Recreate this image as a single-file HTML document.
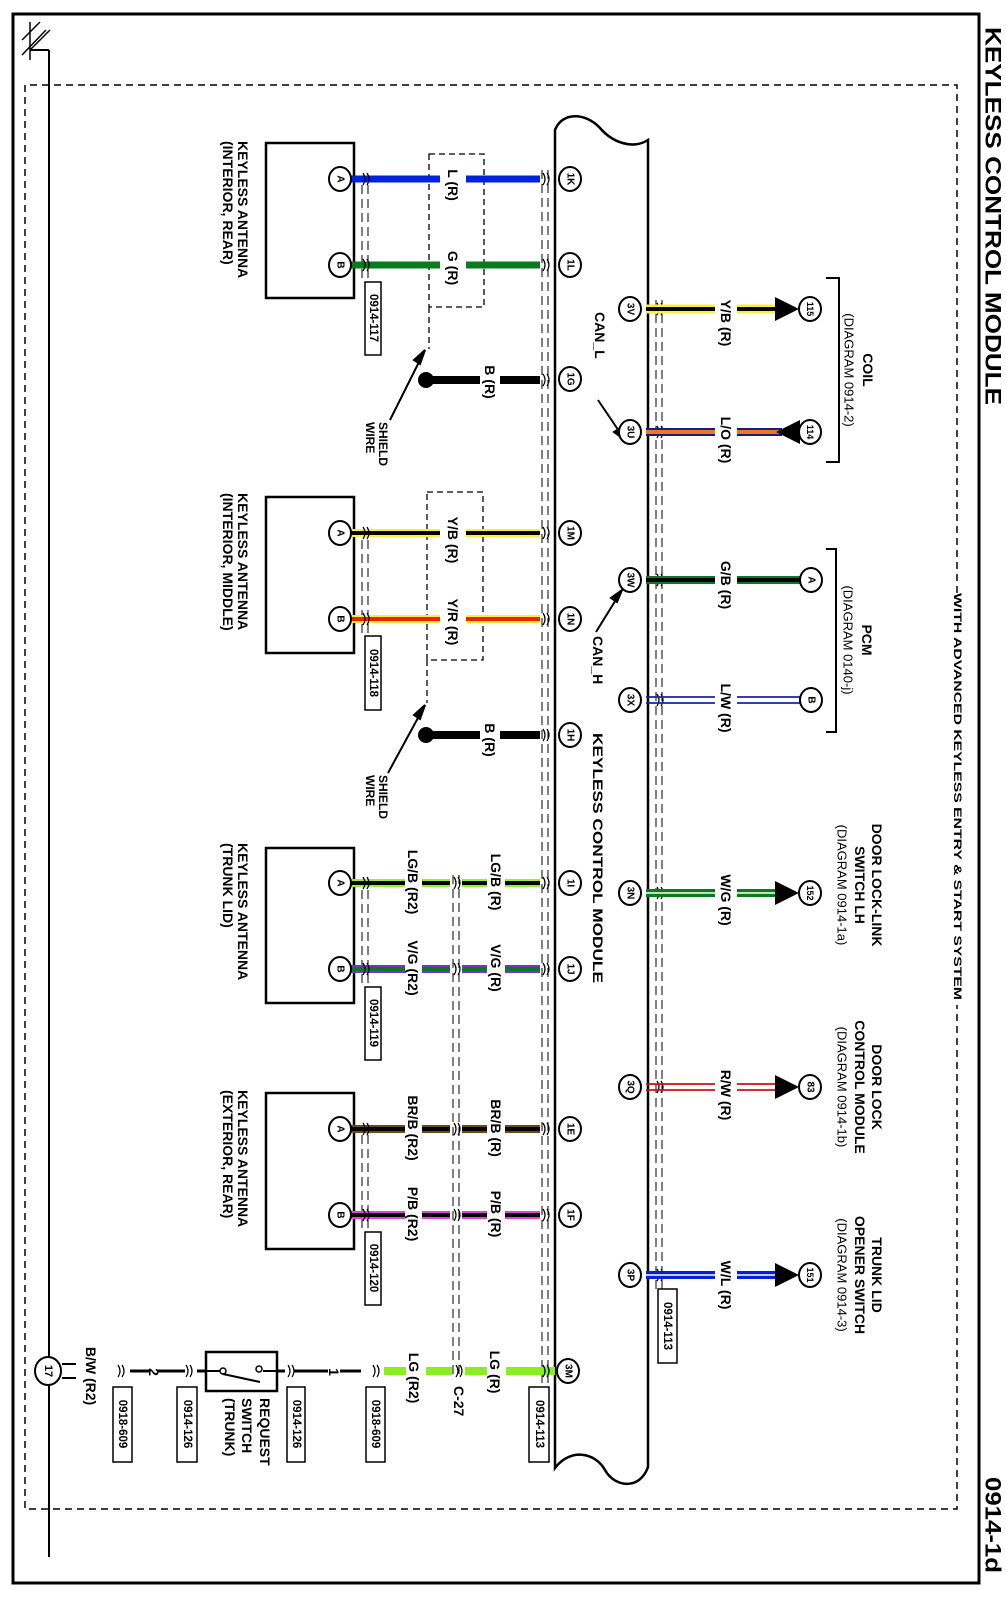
<!DOCTYPE html>
<html><head><meta charset="utf-8"><style>
html,body{margin:0;padding:0;background:#fff}
svg{display:block}
text{font-family:"Liberation Sans",Arial,sans-serif;font-weight:bold;fill:#000}
.p{font-size:10px}
.w{font-size:14px}
.l{font-size:14px}
.d{font-size:13px;font-weight:normal}
.c{font-size:11.5px}
</style></head><body>
<svg width="1006" height="1604" viewBox="0 0 1006 1604" xmlns="http://www.w3.org/2000/svg">
<defs>
<g id="mk"><path d="M-2,-6 Q2,0 -2,6 M2,-6 Q6,0 2,6" fill="none" stroke="#000" stroke-width="1.2"/></g>
<g id="arR"><path d="M0,-12 L24,0 L0,12 Z" fill="#000"/></g>
<g id="arL"><path d="M24,-12 L0,0 L24,12 Z" fill="#000"/></g>
</defs>
<rect x="0" y="0" width="1006" height="1604" fill="#fff"/>
<path d="M13,1583 L13,14 L979,14 L979,1583 Z" fill="none" stroke="#000" stroke-width="3"/>
<path d="M957,593 L957,85 L25,85 L25,1509 L957,1509 L957,1005" fill="none" stroke="#000" stroke-width="1.5" stroke-dasharray="7,5"/>
<line x1="49" y1="50" x2="49" y2="1557" stroke="#000" stroke-width="2"/>
<line x1="30" y1="50" x2="49" y2="50" stroke="#000" stroke-width="2"/>
<path d="M22,40 L40,22 M22,55 L46,30 M30,50 L50,30" stroke="#000" stroke-width="1.5"/>
<line x1="30" y1="22" x2="30" y2="60" stroke="#000" stroke-width="1.5"/>
<text transform="translate(993,27) rotate(90)" font-size="22" dominant-baseline="central" textLength="378" lengthAdjust="spacingAndGlyphs">KEYLESS CONTROL MODULE</text>
<text transform="translate(993,1477) rotate(90)" font-size="22" dominant-baseline="central" textLength="96" lengthAdjust="spacingAndGlyphs">0914-1d</text>
<text transform="translate(957,593) rotate(90)" font-size="11" dominant-baseline="central" textLength="407" lengthAdjust="spacingAndGlyphs">WITH ADVANCED KEYLESS ENTRY &amp; START SYSTEM</text>

<g stroke="#000" stroke-width="1" stroke-dasharray="9,5" fill="none">
<path d="M542,170 V1400 M548,170 V1400"/>
<path d="M656,300 V1290 M662,300 V1290"/>
<path d="M453,875 V1375 M459,875 V1375"/>
<path d="M362,185 V282 M368,185 V282"/>
<path d="M362,540 V636 M368,540 V636"/>
<path d="M362,890 V987 M368,890 V987"/>
<path d="M362,1135 V1232 M368,1135 V1232"/>
</g>

<path d="M555,1468 L555,130 C562,112 585,112 600,128 C612,142 632,150 648,140 L648,1467 C640,1490 615,1488 605,1470 C595,1452 570,1448 555,1468 Z" fill="#fff" stroke="#000" stroke-width="2.5"/>
<text transform="translate(598,733) rotate(90)" class="l" dominant-baseline="central" textLength="250" lengthAdjust="spacingAndGlyphs">KEYLESS CONTROL MODULE</text>

<g fill="none" stroke="#000" stroke-width="2.5">
<rect x="266" y="143" width="88" height="155"/>
<rect x="266" y="497" width="88" height="156"/>
<rect x="266" y="848" width="88" height="155"/>
<rect x="266" y="1093" width="88" height="156"/>
</g>
<g class="l" dominant-baseline="central">
<text transform="translate(243,141) rotate(90)" class="l">KEYLESS ANTENNA</text>
<text transform="translate(228,141) rotate(90)" class="l">(INTERIOR, REAR)</text>
<text transform="translate(243,493) rotate(90)" class="l">KEYLESS ANTENNA</text>
<text transform="translate(228,493) rotate(90)" class="l">(INTERIOR, MIDDLE)</text>
<text transform="translate(243,843) rotate(90)" class="l">KEYLESS ANTENNA</text>
<text transform="translate(228,843) rotate(90)" class="l">(TRUNK LID)</text>
<text transform="translate(243,1090) rotate(90)" class="l">KEYLESS ANTENNA</text>
<text transform="translate(228,1090) rotate(90)" class="l">(EXTERIOR, REAR)</text>
</g>

<g fill="none" stroke="#000" stroke-width="1.3" stroke-dasharray="6,4">
<path d="M429,154 H484 V307 H429 Z M429,307 V349"/>
<path d="M427,492 H483 V660 H427 Z M427,660 V703"/>
</g>
<g stroke="#000" stroke-width="2" fill="#000">
<path d="M390,420 L425,350" fill="none"/><path d="M425,350 L414,360 L420,364 Z"/>
<path d="M388,773 L425,705" fill="none"/><path d="M425,705 L414,715 L420,719 Z"/>
<path d="M598,400 L625,440" fill="none"/><path d="M625,440 L614,432 L620,428 Z"/>
<path d="M596,632 L622,590" fill="none"/><path d="M622,590 L611,598 L617,602 Z"/>
</g>
<g dominant-baseline="central">
<text transform="translate(383,422) rotate(90)" font-size="12">SHIELD</text>
<text transform="translate(370,422) rotate(90)" font-size="12">WIRE</text>
<text transform="translate(383,775) rotate(90)" font-size="12">SHIELD</text>
<text transform="translate(370,775) rotate(90)" font-size="12">WIRE</text>
<text transform="translate(600,312) rotate(90)" class="w">CAN_L</text>
<text transform="translate(598,636) rotate(90)" class="w">CAN_H</text>
</g>

<g>
<path d="M351,179 H440 M466,179 H540" stroke="#0022dd" stroke-width="7"/>
<path d="M351,265 H440 M466,265 H540" stroke="#0a7a1e" stroke-width="7"/>
<path d="M426,380 H480 M500,380 H540" stroke="#000" stroke-width="8"/>
<circle cx="426" cy="380" r="8" fill="#000"/>
<path d="M351,533 H440 M466,533 H540" stroke="#ffee33" stroke-width="8"/>
<path d="M351,533 H440 M466,533 H540" stroke="#000" stroke-width="4"/>
<path d="M351,619 H440 M466,619 H540" stroke="#ffee33" stroke-width="8"/>
<path d="M351,619 H440 M466,619 H540" stroke="#ee2200" stroke-width="4"/>
<path d="M426,735 H480 M500,735 H540" stroke="#000" stroke-width="8"/>
<circle cx="426" cy="735" r="8" fill="#000"/>
<path d="M351,883 H405 M422,883 H450 M462,883 H487 M505,883 H540" stroke="#99ee33" stroke-width="8"/>
<path d="M351,883 H405 M422,883 H450 M462,883 H487 M505,883 H540" stroke="#000" stroke-width="4"/>
<path d="M351,969 H405 M422,969 H450 M462,969 H487 M505,969 H540" stroke="#7733cc" stroke-width="8"/>
<path d="M351,969 H405 M422,969 H450 M462,969 H487 M505,969 H540" stroke="#0a7a1e" stroke-width="4"/>
<path d="M351,1129 H405 M422,1129 H450 M462,1129 H487 M505,1129 H540" stroke="#6b4a1a" stroke-width="8"/>
<path d="M351,1129 H405 M422,1129 H450 M462,1129 H487 M505,1129 H540" stroke="#000" stroke-width="4"/>
<path d="M351,1215 H405 M422,1215 H450 M462,1215 H487 M505,1215 H540" stroke="#dd44dd" stroke-width="8"/>
<path d="M351,1215 H405 M422,1215 H450 M462,1215 H487 M505,1215 H540" stroke="#000" stroke-width="4"/>
<path d="M384,1371 H406 M426,1371 H452 M465,1371 H487 M506,1371 H555" stroke="#88ee22" stroke-width="8"/>
</g>
<g>
<use href="#mk" x="365" y="179"/><use href="#mk" x="545" y="179"/>
<use href="#mk" x="365" y="265"/><use href="#mk" x="545" y="265"/>
<use href="#mk" x="545" y="380"/>
<use href="#mk" x="365" y="533"/><use href="#mk" x="545" y="533"/>
<use href="#mk" x="365" y="619"/><use href="#mk" x="545" y="619"/>
<use href="#mk" x="545" y="735"/>
<use href="#mk" x="365" y="883"/><use href="#mk" x="456" y="883"/><use href="#mk" x="545" y="883"/>
<use href="#mk" x="365" y="969"/><use href="#mk" x="456" y="969"/><use href="#mk" x="545" y="969"/>
<use href="#mk" x="365" y="1129"/><use href="#mk" x="456" y="1129"/><use href="#mk" x="545" y="1129"/>
<use href="#mk" x="365" y="1215"/><use href="#mk" x="456" y="1215"/><use href="#mk" x="545" y="1215"/>
<use href="#mk" x="375" y="1371"/><use href="#mk" x="458" y="1371"/><use href="#mk" x="545" y="1371"/>
<use href="#mk" x="659" y="309"/><use href="#mk" x="659" y="432"/><use href="#mk" x="659" y="580"/>
<use href="#mk" x="659" y="700"/><use href="#mk" x="659" y="893"/><use href="#mk" x="659" y="1087"/><use href="#mk" x="659" y="1275"/>
<use href="#mk" x="290" y="1371"/><use href="#mk" x="188" y="1371"/><use href="#mk" x="120" y="1371"/>
</g>
<g class="w" text-anchor="middle" dominant-baseline="central">
<text transform="translate(453,185) rotate(90)">L (R)</text>
<text transform="translate(453,268) rotate(90)">G (R)</text>
<text transform="translate(490,382) rotate(90)">B (R)</text>
<text transform="translate(453,540) rotate(90)">Y/B (R)</text>
<text transform="translate(453,622) rotate(90)">Y/R (R)</text>
<text transform="translate(490,740) rotate(90)">B (R)</text>
<text transform="translate(413,882) rotate(90)">LG/B (R2)</text>
<text transform="translate(496,882) rotate(90)">LG/B (R)</text>
<text transform="translate(413,968) rotate(90)">V/G (R2)</text>
<text transform="translate(496,968) rotate(90)">V/G (R)</text>
<text transform="translate(413,1128) rotate(90)">BR/B (R2)</text>
<text transform="translate(496,1128) rotate(90)">BR/B (R)</text>
<text transform="translate(413,1214) rotate(90)">P/B (R2)</text>
<text transform="translate(496,1214) rotate(90)">P/B (R)</text>
<text transform="translate(414,1378) rotate(90)">LG (R2)</text>
<text transform="translate(495,1372) rotate(90)">LG (R)</text>
<text transform="translate(726,323) rotate(90)">Y/B (R)</text>
<text transform="translate(726,440) rotate(90)">L/O (R)</text>
<text transform="translate(726,585) rotate(90)">G/B (R)</text>
<text transform="translate(726,708) rotate(90)">L/W (R)</text>
<text transform="translate(726,900) rotate(90)">W/G (R)</text>
<text transform="translate(726,1095) rotate(90)">R/W (R)</text>
<text transform="translate(726,1285) rotate(90)">W/L (R)</text>
<text transform="translate(91,1376) rotate(90)">B/W (R2)</text>
</g>
<text transform="translate(459,1386) rotate(90)" class="w" dominant-baseline="central">C-27</text>

<g>
<path d="M646,309 H715 M737,309 H776" stroke="#ffee33" stroke-width="9"/>
<path d="M646,309 H715 M737,309 H776" stroke="#000" stroke-width="4"/>
<path d="M646,432 H715 M737,432 H782" stroke="#1a1a88" stroke-width="8"/>
<path d="M646,432 H715 M737,432 H782" stroke="#ee7722" stroke-width="4"/>
<path d="M646,580 H715 M737,580 H800" stroke="#0a7a1e" stroke-width="8"/>
<path d="M646,580 H715 M737,580 H800" stroke="#000" stroke-width="4"/>
<path d="M646,697 H715 M737,697 H800 M646,703 H715 M737,703 H800" stroke="#1a22aa" stroke-width="1.8"/>
<path d="M646,893 H715 M737,893 H776" stroke="#0a7a1e" stroke-width="8"/>
<path d="M646,893 H715 M737,893 H776" stroke="#fff" stroke-width="1.5"/>
<path d="M646,1084 H715 M737,1084 H776 M646,1090 H715 M737,1090 H776" stroke="#cc1111" stroke-width="1.8"/>
<path d="M646,1275 H715 M737,1275 H776" stroke="#0022dd" stroke-width="8"/>
<path d="M646,1275 H715 M737,1275 H776" stroke="#fff" stroke-width="1.5"/>
</g>
<use href="#arR" x="775" y="309"/>
<use href="#arL" x="776" y="432"/>
<use href="#arR" x="775" y="893"/>
<use href="#arR" x="775" y="1087"/>
<use href="#arR" x="775" y="1275"/>

<path d="M826,278 H839 V462 H826" fill="none" stroke="#000" stroke-width="2"/>
<path d="M826,549 H836 V732 H826" fill="none" stroke="#000" stroke-width="2"/>
<g text-anchor="middle" dominant-baseline="central">
<text transform="translate(868,370) rotate(90)" class="l">COIL</text>
<text transform="translate(849,370) rotate(90)" class="d">(DIAGRAM 0914-2)</text>
<text transform="translate(867,640) rotate(90)" class="l">PCM</text>
<text transform="translate(848,640) rotate(90)" class="d">(DIAGRAM 0140-j)</text>
<text transform="translate(877,885) rotate(90)" class="l">DOOR LOCK-LINK</text>
<text transform="translate(860,885) rotate(90)" class="l">SWITCH LH</text>
<text transform="translate(842,885) rotate(90)" class="d">(DIAGRAM 0914-1a)</text>
<text transform="translate(877,1087) rotate(90)" class="l">DOOR LOCK</text>
<text transform="translate(860,1087) rotate(90)" class="l">CONTROL MODULE</text>
<text transform="translate(842,1087) rotate(90)" class="d">(DIAGRAM 0914-1b)</text>
<text transform="translate(877,1275) rotate(90)" class="l">TRUNK LID</text>
<text transform="translate(860,1275) rotate(90)" class="l">OPENER SWITCH</text>
<text transform="translate(842,1275) rotate(90)" class="d">(DIAGRAM 0914-3)</text>
</g>

<path d="M294,1371 H328 M340,1371 H361" stroke="#000" stroke-width="3"/>
<path d="M130,1371 H150 M158,1371 H185" stroke="#000" stroke-width="3"/>
<path d="M197,1371 H206" stroke="#000" stroke-width="3"/>
<path d="M277,1371 H285" stroke="#000" stroke-width="3"/>
<path d="M62,1364 H76 M62,1378 H76" stroke="#000" stroke-width="2"/>
<rect x="206" y="1352" width="71" height="39" fill="none" stroke="#000" stroke-width="2.5"/>
<path d="M206,1371 H220 M263,1371 H277" stroke="#000" stroke-width="2"/>
<circle cx="223" cy="1371" r="3" fill="#fff" stroke="#000" stroke-width="1.5"/>
<circle cx="259" cy="1369" r="3" fill="#fff" stroke="#000" stroke-width="1.5"/>
<path d="M223,1374 L260,1382" stroke="#000" stroke-width="2"/>
<g class="w" text-anchor="middle" dominant-baseline="central">
<text transform="translate(334,1372) rotate(90)">1</text>
<text transform="translate(154,1372) rotate(90)">2</text>
</g>
<g class="l" dominant-baseline="central">
<text transform="translate(265,1398) rotate(90)">REQUEST</text>
<text transform="translate(247,1398) rotate(90)">SWITCH</text>
<text transform="translate(230,1398) rotate(90)">(TRUNK)</text>
</g>
<ellipse cx="48" cy="1371" rx="13" ry="14" fill="#fff" stroke="#000" stroke-width="2"/>
<text transform="translate(48,1371) rotate(90)" font-size="11" text-anchor="middle" dominant-baseline="central">17</text>

<g fill="#fff" stroke="#000" stroke-width="1.5">
<rect x="365" y="282" width="16" height="73"/>
<rect x="365" y="636" width="16" height="74"/>
<rect x="365" y="987" width="16" height="73"/>
<rect x="365" y="1232" width="16" height="73"/>
<rect x="529" y="1387" width="20" height="75"/>
<rect x="658" y="1289" width="19" height="74"/>
<rect x="366" y="1387" width="19" height="75"/>
<rect x="287" y="1387" width="18" height="75"/>
<rect x="177" y="1387" width="20" height="75"/>
<rect x="113" y="1387" width="19" height="75"/>
</g>
<g class="c" text-anchor="middle" dominant-baseline="central">
<text transform="translate(373,318) rotate(90)">0914-117</text>
<text transform="translate(373,673) rotate(90)">0914-118</text>
<text transform="translate(373,1023) rotate(90)">0914-119</text>
<text transform="translate(373,1268) rotate(90)">0914-120</text>
<text transform="translate(539,1424) rotate(90)">0914-113</text>
<text transform="translate(667,1326) rotate(90)">0914-113</text>
<text transform="translate(375,1424) rotate(90)">0918-609</text>
<text transform="translate(296,1424) rotate(90)">0914-126</text>
<text transform="translate(187,1424) rotate(90)">0914-126</text>
<text transform="translate(122,1424) rotate(90)">0918-609</text>
</g>

<g fill="#fff" stroke="#000" stroke-width="2">
<ellipse cx="340" cy="179" rx="11" ry="12"/><ellipse cx="340" cy="265" rx="11" ry="12"/>
<ellipse cx="340" cy="533" rx="11" ry="12"/><ellipse cx="340" cy="619" rx="11" ry="12"/>
<ellipse cx="340" cy="883" rx="11" ry="12"/><ellipse cx="340" cy="969" rx="11" ry="12"/>
<ellipse cx="340" cy="1129" rx="11" ry="12"/><ellipse cx="340" cy="1215" rx="11" ry="12"/>
<ellipse cx="570" cy="179" rx="11" ry="12"/><ellipse cx="570" cy="265" rx="11" ry="12"/>
<ellipse cx="570" cy="379" rx="11" ry="12"/><ellipse cx="570" cy="533" rx="11" ry="12"/>
<ellipse cx="570" cy="619" rx="11" ry="12"/><ellipse cx="570" cy="735" rx="11" ry="12"/>
<ellipse cx="570" cy="883" rx="11" ry="12"/><ellipse cx="570" cy="969" rx="11" ry="12"/>
<ellipse cx="570" cy="1129" rx="11" ry="12"/><ellipse cx="570" cy="1215" rx="11" ry="12"/>
<ellipse cx="568" cy="1371" rx="11" ry="12"/>
<ellipse cx="630" cy="309" rx="11" ry="12"/><ellipse cx="630" cy="432" rx="11" ry="12"/>
<ellipse cx="630" cy="580" rx="11" ry="12"/><ellipse cx="630" cy="700" rx="11" ry="12"/>
<ellipse cx="630" cy="893" rx="11" ry="12"/><ellipse cx="630" cy="1087" rx="11" ry="12"/>
<ellipse cx="630" cy="1275" rx="11" ry="12"/>
<ellipse cx="810" cy="309" rx="11" ry="12"/><ellipse cx="810" cy="432" rx="11" ry="12"/>
<ellipse cx="811" cy="580" rx="11" ry="12"/><ellipse cx="811" cy="700" rx="11" ry="12"/>
<ellipse cx="810" cy="893" rx="11" ry="12"/><ellipse cx="810" cy="1087" rx="11" ry="12"/>
<ellipse cx="810" cy="1275" rx="11" ry="12"/>
</g>
<g class="p" text-anchor="middle" dominant-baseline="central">
<text transform="translate(340,179) rotate(90)">A</text><text transform="translate(340,265) rotate(90)">B</text>
<text transform="translate(340,533) rotate(90)">A</text><text transform="translate(340,619) rotate(90)">B</text>
<text transform="translate(340,883) rotate(90)">A</text><text transform="translate(340,969) rotate(90)">B</text>
<text transform="translate(340,1129) rotate(90)">A</text><text transform="translate(340,1215) rotate(90)">B</text>
<text transform="translate(570,179) rotate(90)">1K</text><text transform="translate(570,265) rotate(90)">1L</text>
<text transform="translate(570,379) rotate(90)">1G</text><text transform="translate(570,533) rotate(90)">1M</text>
<text transform="translate(570,619) rotate(90)">1N</text><text transform="translate(570,735) rotate(90)">1H</text>
<text transform="translate(570,883) rotate(90)">1I</text><text transform="translate(570,969) rotate(90)">1J</text>
<text transform="translate(570,1129) rotate(90)">1E</text><text transform="translate(570,1215) rotate(90)">1F</text>
<text transform="translate(568,1371) rotate(90)">3M</text>
<text transform="translate(630,309) rotate(90)">3V</text><text transform="translate(630,432) rotate(90)">3U</text>
<text transform="translate(630,580) rotate(90)">3W</text><text transform="translate(630,700) rotate(90)">3X</text>
<text transform="translate(630,893) rotate(90)">3N</text><text transform="translate(630,1087) rotate(90)">3Q</text>
<text transform="translate(630,1275) rotate(90)">3P</text>
<text transform="translate(810,309) rotate(90)" style="font-size:9px">115</text><text transform="translate(810,432) rotate(90)" style="font-size:9px">114</text>
<text transform="translate(811,580) rotate(90)">A</text><text transform="translate(811,700) rotate(90)">B</text>
<text transform="translate(810,893) rotate(90)" style="font-size:9px">152</text><text transform="translate(810,1087) rotate(90)">83</text>
<text transform="translate(810,1275) rotate(90)" style="font-size:9px">151</text>
</g>
</svg>
</body></html>
